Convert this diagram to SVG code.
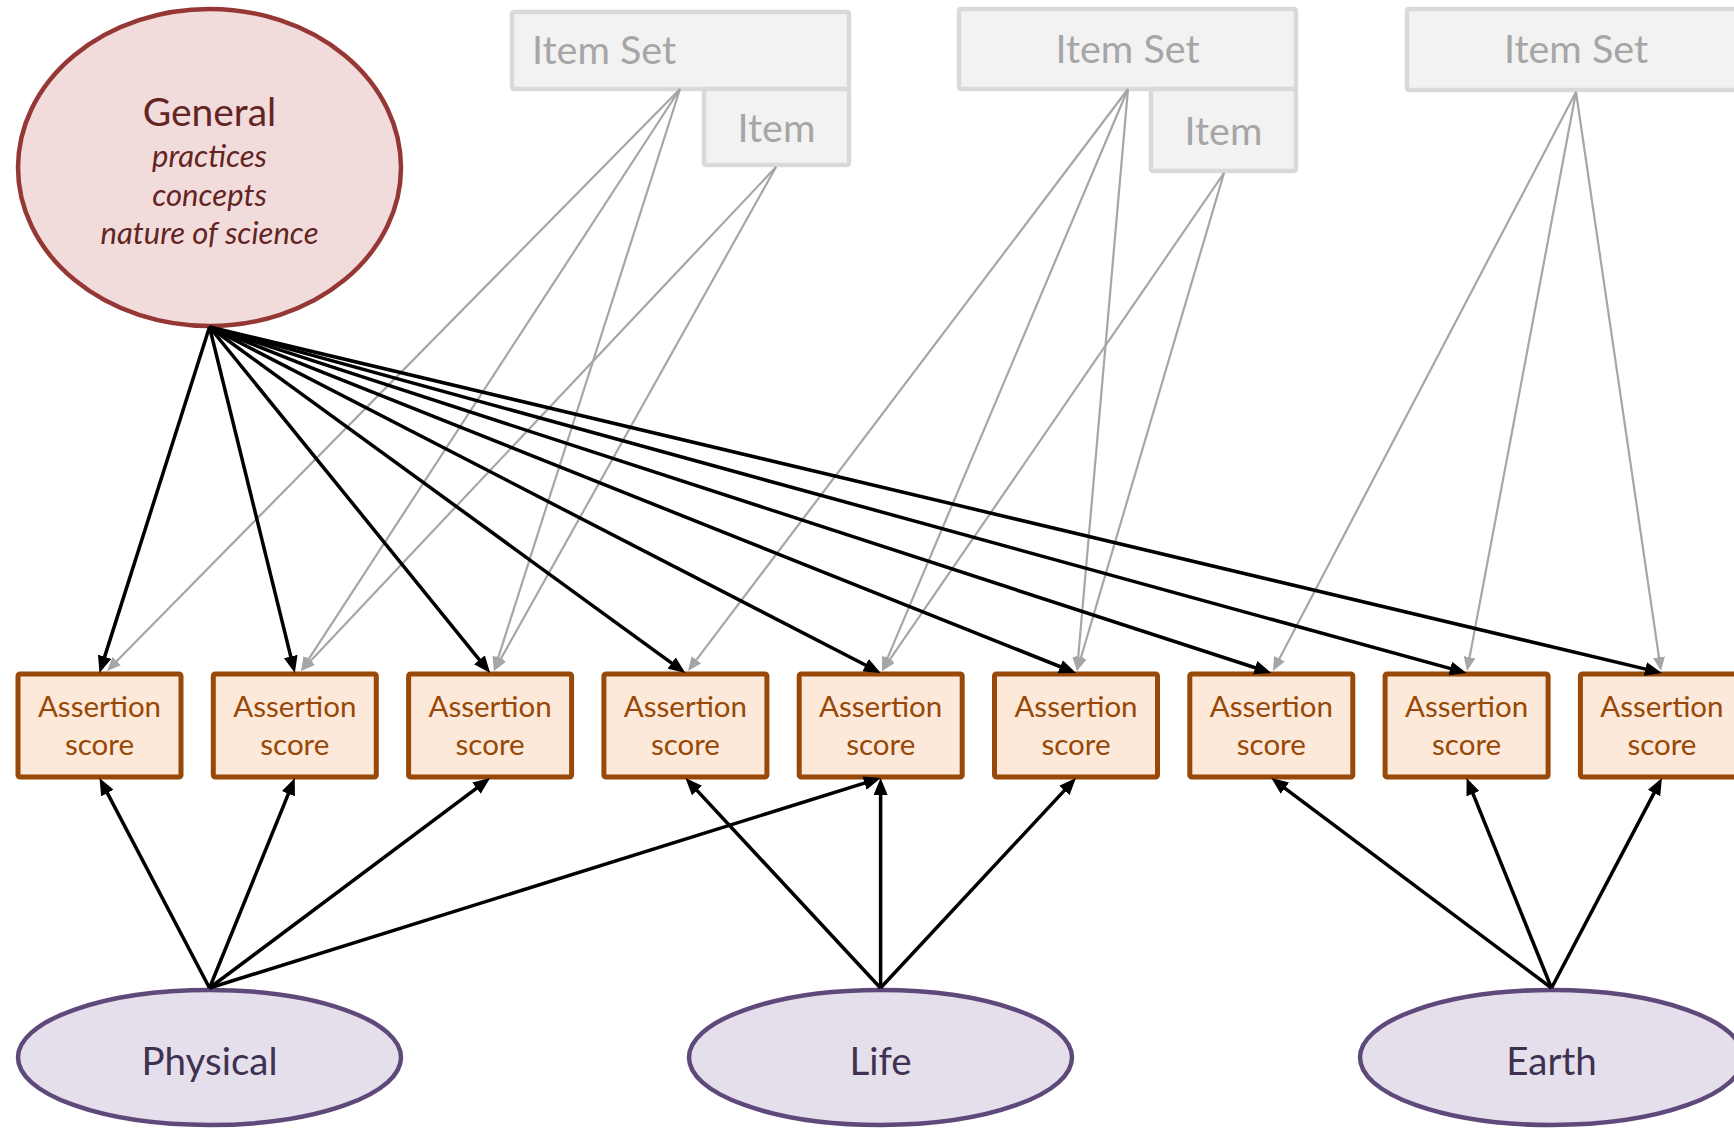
<svg xmlns="http://www.w3.org/2000/svg" width="1734" height="1131" viewBox="0 0 1734 1131">
  <style>
    text { font-family: Lato, "Open Sans", "Liberation Sans", sans-serif; text-anchor: middle; }
    .general { fill: #F2DCDB; stroke: #953735; stroke-width: 4.5; }
    .general-title { font-size: 39px; fill: #632523; }
    .general-sub { font-size: 31px; font-style: italic; fill: #632523; }
    .itemset { fill: #F2F2F2; stroke: #D9D9D9; stroke-width: 4.5; }
    .itemset-label { font-size: 39.5px; fill: #A6A6A6; }
    .score { fill: #FDE9D9; stroke: #984807; stroke-width: 5; }
    .score-label { font-size: 29.5px; fill: #984807; }
    .domain { fill: #E5DFEC; stroke: #5F497A; stroke-width: 4.5; }
    .domain-label { font-size: 38.5px; fill: #3F3151; }
    .link { fill: none; stroke: #000000; stroke-width: 3.5; marker-end: url(#arrow-black); }
    .item-link { fill: none; stroke: #A6A6A6; stroke-width: 2.2; marker-end: url(#arrow-gray); }
  </style>
  <defs>
    <marker id="arrow-black" markerUnits="userSpaceOnUse" viewBox="0 0 17 14" markerWidth="17" markerHeight="14" refX="9" refY="7" orient="auto">
      <path d="M0,0 L17,7 L0,14 z" fill="#000000"/>
    </marker>
    <marker id="arrow-gray" markerUnits="userSpaceOnUse" viewBox="0 0 14 12" markerWidth="14" markerHeight="12" refX="7" refY="6" orient="auto">
      <path d="M0,0 L14,6 L0,12 z" fill="#A6A6A6"/>
    </marker>
  </defs>

  <rect width="1734" height="1131" fill="#FFFFFF"/>

  <!-- general factor -->
  <g id="general">
    <ellipse class="general" cx="209.5" cy="167.5" rx="191.5" ry="158.5"/>
    <text class="general-title" x="209.5" y="126">General</text>
    <text class="general-sub" x="209.5" y="167">practices</text>
    <text class="general-sub" x="209.5" y="206">concepts</text>
    <text class="general-sub" x="209.5" y="244">nature of science</text>
  </g>

  <!-- item sets and items -->
  <g id="itemset-1">
    <rect class="itemset" x="512" y="12" width="337" height="77" rx="2"/>
    <text class="itemset-label" x="532" y="64" style="text-anchor:start">Item Set</text>
  </g>
  <g id="item-1">
    <rect class="itemset" x="704" y="89" width="145" height="76" rx="2"/>
    <text class="itemset-label" x="776.5" y="142">Item</text>
  </g>
  <g id="itemset-2">
    <rect class="itemset" x="959" y="9" width="337" height="80" rx="2"/>
    <text class="itemset-label" x="1127.5" y="63">Item Set</text>
  </g>
  <g id="item-2">
    <rect class="itemset" x="1151" y="89" width="145" height="82" rx="2"/>
    <text class="itemset-label" x="1223.5" y="145">Item</text>
  </g>
  <g id="itemset-3">
    <rect class="itemset" x="1407" y="9" width="339" height="81" rx="2"/>
    <text class="itemset-label" x="1576" y="63">Item Set</text>
  </g>

  <!-- assertion scores -->
  <g id="score-1">
    <rect class="score" x="18" y="674" width="163" height="103" rx="2"/>
    <text class="score-label" x="99.5" y="717">Assertion</text>
    <text class="score-label" x="99.5" y="755">score</text>
  </g>
  <g id="score-2">
    <rect class="score" x="213.3" y="674" width="163" height="103" rx="2"/>
    <text class="score-label" x="294.8" y="717">Assertion</text>
    <text class="score-label" x="294.8" y="755">score</text>
  </g>
  <g id="score-3">
    <rect class="score" x="408.6" y="674" width="163" height="103" rx="2"/>
    <text class="score-label" x="490.1" y="717">Assertion</text>
    <text class="score-label" x="490.1" y="755">score</text>
  </g>
  <g id="score-4">
    <rect class="score" x="603.9" y="674" width="163" height="103" rx="2"/>
    <text class="score-label" x="685.4" y="717">Assertion</text>
    <text class="score-label" x="685.4" y="755">score</text>
  </g>
  <g id="score-5">
    <rect class="score" x="799.2" y="674" width="163" height="103" rx="2"/>
    <text class="score-label" x="880.7" y="717">Assertion</text>
    <text class="score-label" x="880.7" y="755">score</text>
  </g>
  <g id="score-6">
    <rect class="score" x="994.5" y="674" width="163" height="103" rx="2"/>
    <text class="score-label" x="1076" y="717">Assertion</text>
    <text class="score-label" x="1076" y="755">score</text>
  </g>
  <g id="score-7">
    <rect class="score" x="1189.8" y="674" width="163" height="103" rx="2"/>
    <text class="score-label" x="1271.3" y="717">Assertion</text>
    <text class="score-label" x="1271.3" y="755">score</text>
  </g>
  <g id="score-8">
    <rect class="score" x="1385.1" y="674" width="163" height="103" rx="2"/>
    <text class="score-label" x="1466.6" y="717">Assertion</text>
    <text class="score-label" x="1466.6" y="755">score</text>
  </g>
  <g id="score-9">
    <rect class="score" x="1580.4" y="674" width="163" height="103" rx="2"/>
    <text class="score-label" x="1661.9" y="717">Assertion</text>
    <text class="score-label" x="1661.9" y="755">score</text>
  </g>

  <!-- domain factors -->
  <g id="physical">
    <ellipse class="domain" cx="209.5" cy="1057.5" rx="191.5" ry="67.5"/>
    <text class="domain-label" x="209.5" y="1075">Physical</text>
  </g>
  <g id="life">
    <ellipse class="domain" cx="880.5" cy="1057.5" rx="191.5" ry="67.5"/>
    <text class="domain-label" x="880.5" y="1075">Life</text>
  </g>
  <g id="earth">
    <ellipse class="domain" cx="1551.5" cy="1057.5" rx="191.5" ry="67.5"/>
    <text class="domain-label" x="1551.5" y="1075">Earth</text>
  </g>

  <!-- connectors -->
  <g id="connectors">
    <!-- item set / item loadings -->
    <line class="item-link" x1="680" y1="89" x2="111.9" y2="666.0"/>
    <line class="item-link" x1="680" y1="89" x2="304.8" y2="665.1"/>
    <line class="item-link" x1="680" y1="89" x2="496.1" y2="664.3"/>
    <line class="item-link" x1="776" y1="167" x2="305.8" y2="665.9"/>
    <line class="item-link" x1="776" y1="167" x2="497.4" y2="664.9"/>
    <line class="item-link" x1="1128" y1="89" x2="692.2" y2="665.4"/>
    <line class="item-link" x1="1128" y1="89" x2="884.7" y2="664.6"/>
    <line class="item-link" x1="1224" y1="173" x2="886.0" y2="665.2"/>
    <line class="item-link" x1="1128" y1="89" x2="1077.6" y2="664.0"/>
    <line class="item-link" x1="1224" y1="173" x2="1079.0" y2="664.3"/>
    <line class="item-link" x1="1576" y1="92" x2="1276.2" y2="664.8"/>
    <line class="item-link" x1="1576" y1="92" x2="1468.3" y2="664.1"/>
    <line class="item-link" x1="1576" y1="92" x2="1660.0" y2="664.1"/>

    <!-- general factor loadings -->
    <line class="link" x1="209.5" y1="327" x2="101.9" y2="665.4"/>
    <line class="link" x1="209.5" y1="327" x2="292.9" y2="665.2"/>
    <line class="link" x1="209.5" y1="327" x2="485.1" y2="666.8"/>
    <line class="link" x1="209.5" y1="327" x2="678.9" y2="668.3"/>
    <line class="link" x1="209.5" y1="327" x2="873.6" y2="669.3"/>
    <line class="link" x1="209.5" y1="327" x2="1068.6" y2="670.0"/>
    <line class="link" x1="209.5" y1="327" x2="1263.7" y2="670.5"/>
    <line class="link" x1="209.5" y1="327" x2="1458.9" y2="670.9"/>
    <line class="link" x1="209.5" y1="327" x2="1654.1" y2="671.1"/>

    <!-- domain factor loadings -->
    <line class="link" x1="209.5" y1="988" x2="103.2" y2="785.1"/>
    <line class="link" x1="209.5" y1="988" x2="291.8" y2="785.4"/>
    <line class="link" x1="209.5" y1="988" x2="483.7" y2="782.8"/>
    <line class="link" x1="209.5" y1="988" x2="873.1" y2="780.4"/>
    <line class="link" x1="880.5" y1="988" x2="690.9" y2="783.9"/>
    <line class="link" x1="880.6" y1="988" x2="880.6" y2="786"/>
    <line class="link" x1="880.5" y1="988" x2="1070.5" y2="783.9"/>
    <line class="link" x1="1551.5" y1="988" x2="1277.7" y2="782.8"/>
    <line class="link" x1="1551.5" y1="988" x2="1469.6" y2="785.4"/>
    <line class="link" x1="1551.5" y1="988" x2="1658.2" y2="785.1"/>
  </g>
</svg>
